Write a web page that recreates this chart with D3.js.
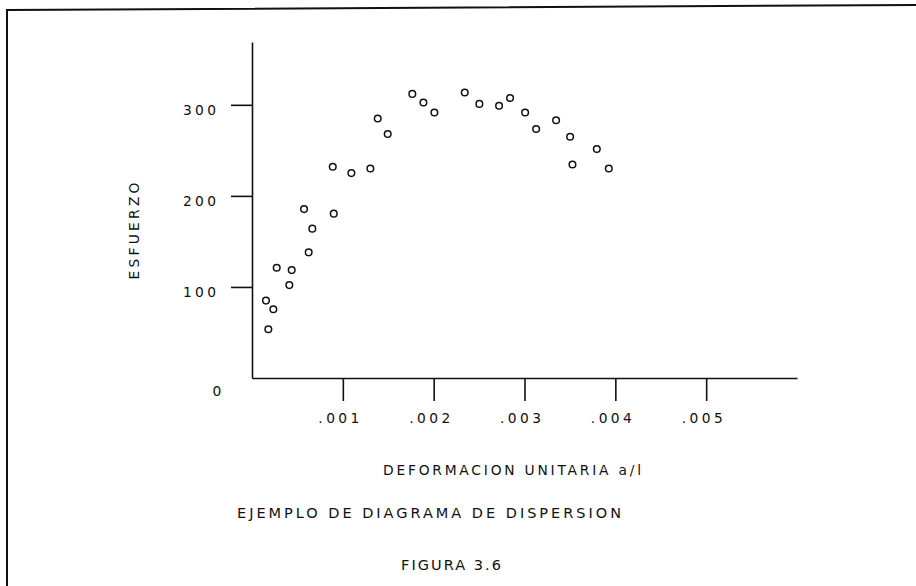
<!DOCTYPE html>
<html>
<head>
<meta charset="utf-8">
<script src="https://cdn.jsdelivr.net/npm/d3@7"></script>
<style>
  html, body { margin: 0; padding: 0; background: #fff; }
  svg { display: block; }
  text { font-family: "DejaVu Sans", sans-serif; fill: #111; }
</style>
</head>
<body>
<svg id="chart" width="916" height="586"></svg>
<script>
// ---- data ----
const strain = [0.000154, 0.000235, 0.000180, 0.000272, 0.000437, 0.000411, 0.000573, 0.000664,
                0.000624, 0.000889, 0.000900, 0.001094, 0.001303, 0.001384, 0.001494, 0.001765,
                0.001887, 0.002008, 0.002342, 0.002503, 0.002720, 0.002841, 0.003007, 0.003128,
                0.003348, 0.003502, 0.003528, 0.003796, 0.003928];
const stress = [85, 75.5, 53.5, 121, 118.5, 102, 185.5, 164, 138, 232, 180.5, 225, 230, 285, 268,
                312, 302.5, 291.5, 313.5, 301, 299, 307.5, 291.5, 273.5, 283, 265, 234.5, 251.5, 230];
const xTicks = [0.001, 0.002, 0.003, 0.004, 0.005];
const xTickLabels = [".001", ".002", ".003", ".004", ".005"];
const yTicks = [100, 200, 300];
const yTickLabels = ["100", "200", "300"];
const yLabel = "ESFUERZO";
const xLabel = "DEFORMACION UNITARIA a/l";
const title = "EJEMPLO DE DIAGRAMA DE DISPERSION";
const figLabel = "FIGURA 3.6";

const svg = d3.select("#chart");
const ink = "#111";

// outer frame
svg.append("path")
  .attr("d", "M7,586 L7,10 L916,5")
  .attr("fill", "none").attr("stroke", ink).attr("stroke-width", 2);

const x = d3.scaleLinear().domain([0, 0.006]).range([252, 797]);
const y = d3.scaleLinear().domain([0, 369]).range([378, 42]);

// axes
const gy = svg.append("g").attr("transform", `translate(${x(0)},0)`)
  .call(d3.axisLeft(y).tickValues(yTicks).tickSize(21).tickSizeOuter(0).tickFormat(""));
const gx = svg.append("g").attr("transform", `translate(0,${y(0)})`)
  .call(d3.axisBottom(x).tickValues(xTicks).tickSize(23).tickSizeOuter(0).tickFormat(""));
[gx, gy].forEach(g => {
  g.selectAll("path, line").attr("stroke", ink).attr("stroke-width", 1.6);
});

const fs = 13.8;
// y tick labels
svg.append("g").selectAll("text").data(yTicks).join("text")
  .attr("x", 199.5).attr("y", d => y(d) + 5)
  .attr("text-anchor", "middle").attr("dominant-baseline", "central")
  .attr("font-size", fs).attr("textLength", 33).attr("lengthAdjust", "spacing")
  .text((d, i) => yTickLabels[i]);
// origin label
svg.append("text").attr("x", 217).attr("y", 391)
  .attr("text-anchor", "middle").attr("dominant-baseline", "central")
  .attr("font-size", fs).text("0");
// x tick labels
svg.append("g").selectAll("text").data(xTicks).join("text")
  .attr("x", d => x(d) - 4).attr("y", 418)
  .attr("text-anchor", "middle").attr("dominant-baseline", "central")
  .attr("font-size", fs).attr("textLength", 41).attr("lengthAdjust", "spacing")
  .text((d, i) => xTickLabels[i]);

// axis titles
svg.append("text")
  .attr("transform", "translate(134,231) rotate(-90)")
  .attr("text-anchor", "middle").attr("dominant-baseline", "central")
  .attr("font-size", fs).attr("textLength", 97).attr("lengthAdjust", "spacing")
  .text(yLabel);
svg.append("text").attr("x", 512).attr("y", 470)
  .attr("text-anchor", "middle").attr("dominant-baseline", "central")
  .attr("font-size", fs).attr("textLength", 258).attr("lengthAdjust", "spacing")
  .text(xLabel);
svg.append("text").attr("x", 429).attr("y", 513)
  .attr("text-anchor", "middle").attr("dominant-baseline", "central")
  .attr("font-size", 14.5).attr("textLength", 384).attr("lengthAdjust", "spacing")
  .text(title);
svg.append("text").attr("x", 451).attr("y", 565)
  .attr("text-anchor", "middle").attr("dominant-baseline", "central")
  .attr("font-size", 14.5).attr("textLength", 100).attr("lengthAdjust", "spacing")
  .text(figLabel);

// points
svg.append("g").selectAll("circle").data(strain).join("circle")
  .attr("cx", d => x(d)).attr("cy", (d, i) => y(stress[i]))
  .attr("r", 3.3).attr("fill", "none").attr("stroke", ink).attr("stroke-width", 1.5);
</script>
</body>
</html>
